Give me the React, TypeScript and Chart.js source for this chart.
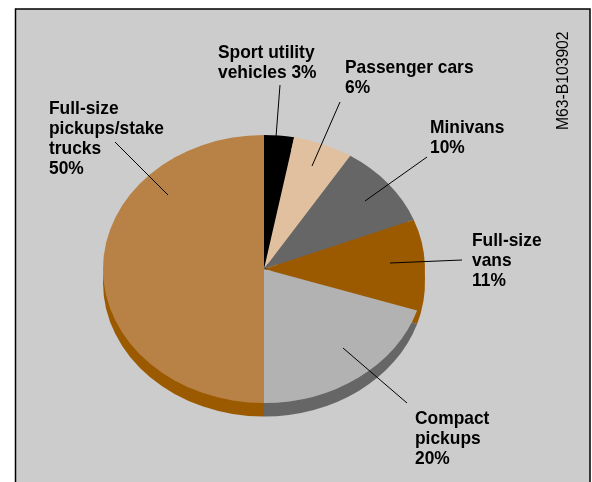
import { useEffect, useRef } from "react";
import { Chart, registerables } from "chart.js";

Chart.register(...registerables);

// Share of light-truck and car sales, clockwise from twelve o'clock.
const categoryLines = [
  ["Sport utility", "vehicles"],
  ["Passenger cars"],
  ["Minivans"],
  ["Full-size", "vans"],
  ["Compact", "pickups"],
  ["Full-size", "pickups/stake", "trucks"],
];
const shares = [3, 6, 10, 11, 20, 50];
const topColors = ["#000000", "#E0C09F", "#666666", "#9C5A00", "#B2B2B2", "#B88145"];
const sideColors = ["#000000", "#E0C09F", "#666666", "#9C5A00", "#666666", "#9C5A00"];
const figureCode = "M63-B103902";

// Where each callout sits: text origin plus leader line endpoints.
const callouts = [
  { x: 218, y: 58, inlinePct: true, from: [280, 85], to: [276, 137] },
  { x: 345, y: 73, inlinePct: false, from: [340, 102], to: [312, 166] },
  { x: 430, y: 133, inlinePct: false, from: [427, 157], to: [365, 201] },
  { x: 472, y: 246, inlinePct: false, from: [462, 260], to: [390, 263] },
  { x: 415, y: 424, inlinePct: false, from: [407, 403], to: [343, 348] },
  { x: 49, y: 114, inlinePct: false, from: [115, 142], to: [168, 195] },
];

const SQUASH = 134 / 161;
const DEPTH = 13.5;
const LABEL_FONT = 'bold 19px "Liberation Sans", sans-serif';
const LABEL_CONDENSE = 0.915;
const LINE_HEIGHT = 20;

const framePlugin = {
  id: "frame",
  beforeDraw(chart: any) {
    const { ctx } = chart;
    ctx.save();
    ctx.fillStyle = "#CCCCCC";
    ctx.fillRect(16, 9, 574, 473);
    ctx.strokeStyle = "#000000";
    ctx.lineWidth = 1.5;
    ctx.beginPath();
    ctx.moveTo(15.5, 482);
    ctx.lineTo(15.5, 9);
    ctx.lineTo(590, 9);
    ctx.lineTo(590, 482);
    ctx.stroke();
    ctx.restore();
  },
};

// Flattens the arcs into an ellipse and paints the rim of the disc under them.
const tiltPlugin = {
  id: "tilt",
  beforeDatasetsDraw(chart: any) {
    const { ctx } = chart;
    const arcs = chart.getDatasetMeta(0).data;
    const cy = arcs[0].y;
    ctx.save();
    ctx.translate(0, DEPTH + cy);
    ctx.scale(1, SQUASH);
    ctx.translate(0, -cy);
    arcs.forEach((arc: any, i: number) => {
      ctx.fillStyle = sideColors[i];
      ctx.beginPath();
      ctx.moveTo(arc.x, arc.y);
      ctx.arc(arc.x, arc.y, arc.outerRadius, arc.startAngle, arc.endAngle);
      ctx.closePath();
      ctx.fill();
    });
    ctx.restore();
    // Left open until afterDatasetsDraw so the library's arcs are flattened too.
    ctx.save();
    ctx.translate(0, cy);
    ctx.scale(1, SQUASH);
    ctx.translate(0, -cy);
  },
  afterDatasetsDraw(chart: any) {
    chart.ctx.restore();
  },
};

const calloutPlugin = {
  id: "callouts",
  afterDraw(chart: any) {
    const { ctx } = chart;
    ctx.save();
    ctx.strokeStyle = "#000000";
    ctx.lineWidth = 1;
    callouts.forEach((c) => {
      ctx.beginPath();
      ctx.moveTo(c.from[0], c.from[1]);
      ctx.lineTo(c.to[0], c.to[1]);
      ctx.stroke();
    });
    ctx.fillStyle = "#000000";
    ctx.font = LABEL_FONT;
    ctx.textAlign = "left";
    ctx.textBaseline = "alphabetic";
    callouts.forEach((c, i) => {
      const pct = `${shares[i]}%`;
      const lines = c.inlinePct
        ? [...categoryLines[i].slice(0, -1), `${categoryLines[i].at(-1)} ${pct}`]
        : [...categoryLines[i], pct];
      lines.forEach((line, n) => {
        ctx.save();
        ctx.translate(c.x, c.y + n * LINE_HEIGHT);
        ctx.scale(LABEL_CONDENSE, 1);
        ctx.fillText(line, 0, 0);
        ctx.restore();
      });
    });
    ctx.translate(568, 130);
    ctx.rotate(-Math.PI / 2);
    ctx.font = '15.7px "Liberation Sans", sans-serif';
    ctx.fillText(figureCode, 0, 0);
    ctx.restore();
  },
};

export default function App() {
  const ref = useRef<HTMLCanvasElement>(null);
  useEffect(() => {
    const chart = new Chart(ref.current!, {
      type: "pie",
      data: {
        labels: categoryLines.map((l) => l.join(" ")),
        datasets: [
          { data: shares, backgroundColor: topColors, borderWidth: 0 },
        ],
      },
      options: {
        responsive: false,
        animation: false,
        layout: { padding: { left: 103, right: 167, top: 108, bottom: 52 } },
        plugins: { legend: { display: false }, tooltip: { enabled: false } },
      },
      plugins: [framePlugin, tiltPlugin, calloutPlugin],
    });
    return () => chart.destroy();
  }, []);
  return (
    <canvas
      ref={ref}
      width={592}
      height={482}
      style={{ position: "absolute", left: 0, top: 0, width: 592, height: 482 }}
    />
  );
}
